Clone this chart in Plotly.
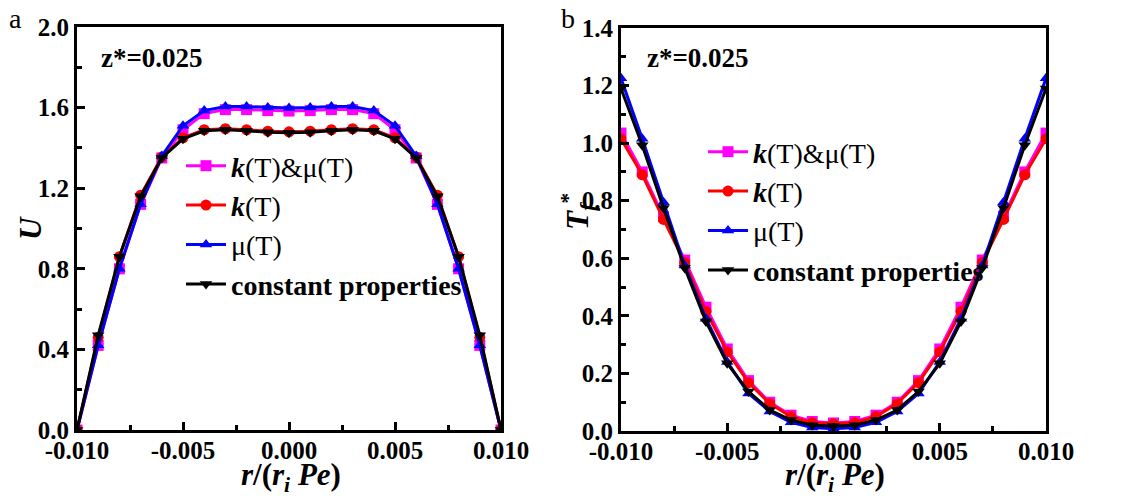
import plotly.graph_objects as go

# Radial coordinate r/(r_i Pe)
r = [-0.010, -0.009, -0.008, -0.007, -0.006, -0.005, -0.004, -0.003, -0.002, -0.001, 0.000,
     0.001, 0.002, 0.003, 0.004, 0.005, 0.006, 0.007, 0.008, 0.009, 0.010]

# Panel a: axial velocity U
u_k_mu = [0.0, 0.42, 0.80, 1.12, 1.35, 1.49, 1.57, 1.59, 1.59, 1.585, 1.583,
          1.585, 1.59, 1.59, 1.57, 1.49, 1.35, 1.12, 0.80, 0.42, 0.0]
u_k = [0.0, 0.46, 0.86, 1.165, 1.355, 1.45, 1.49, 1.495, 1.49, 1.483, 1.48,
       1.483, 1.49, 1.495, 1.49, 1.45, 1.355, 1.165, 0.86, 0.46, 0.0]
u_mu = [0.0, 0.42, 0.80, 1.12, 1.36, 1.51, 1.585, 1.605, 1.605, 1.60, 1.598,
        1.60, 1.605, 1.605, 1.585, 1.51, 1.36, 1.12, 0.80, 0.42, 0.0]
u_const = [0.0, 0.47, 0.86, 1.16, 1.35, 1.445, 1.485, 1.49, 1.485, 1.478, 1.475,
           1.478, 1.485, 1.49, 1.485, 1.445, 1.35, 1.16, 0.86, 0.47, 0.0]

# Panel b: dimensionless fluid temperature T*_f
t_k_mu = [1.035, 0.90, 0.745, 0.594, 0.43, 0.285, 0.175, 0.10, 0.055, 0.033, 0.028,
          0.033, 0.055, 0.10, 0.175, 0.285, 0.43, 0.594, 0.745, 0.90, 1.035]
t_k = [1.015, 0.89, 0.735, 0.585, 0.415, 0.275, 0.168, 0.095, 0.05, 0.029, 0.025,
       0.029, 0.05, 0.095, 0.168, 0.275, 0.415, 0.585, 0.735, 0.89, 1.015]
t_mu = [1.225, 1.015, 0.795, 0.575, 0.39, 0.24, 0.13, 0.068, 0.03, 0.012, 0.008,
        0.012, 0.03, 0.068, 0.13, 0.24, 0.39, 0.575, 0.795, 1.015, 1.225]
t_const = [1.19, 0.993, 0.775, 0.566, 0.38, 0.235, 0.137, 0.073, 0.038, 0.02, 0.017,
           0.02, 0.038, 0.073, 0.137, 0.235, 0.38, 0.566, 0.775, 0.993, 1.19]

series_names = ["<b><i>k</i></b>(T)&μ(T)", "<b><i>k</i></b>(T)", "μ(T)", "<b>constant properties</b>"]
series_colors = ["#FF00FF", "#FF0000", "#0000FF", "#000000"]
series_symbols = ["square", "circle", "triangle-up", "triangle-down"]

x_tickvals = [-0.010, -0.005, 0.000, 0.005, 0.010]
x_ticktext = ["-0.010", "-0.005", "0.000", "0.005", "0.010"]
ya_tickvals = [0.0, 0.4, 0.8, 1.2, 1.6, 2.0]
ya_ticktext = ["0.0", "0.4", "0.8", "1.2", "1.6", "2.0"]
yb_tickvals = [0.0, 0.2, 0.4, 0.6, 0.8, 1.0, 1.2, 1.4]
yb_ticktext = ["0.0", "0.2", "0.4", "0.6", "0.8", "1.0", "1.2", "1.4"]

FONT = "Liberation Serif"
W, H = 1121, 497

fig = go.Figure()

for ys, name, col, sym in zip([u_k_mu, u_k, u_mu, u_const], series_names, series_colors, series_symbols):
    fig.add_trace(go.Scatter(
        x=r, y=ys, name=name, mode="lines+markers",
        line=dict(color=col, width=3),
        marker=dict(color=col, symbol=sym, size=11),
        xaxis="x", yaxis="y", legend="legend",
    ))

for ys, name, col, sym in zip([t_k_mu, t_k, t_mu, t_const], series_names, series_colors, series_symbols):
    fig.add_trace(go.Scatter(
        x=r, y=ys, name=name, mode="lines+markers",
        line=dict(color=col, width=3),
        marker=dict(color=col, symbol=sym, size=11),
        xaxis="x2", yaxis="y2", legend="legend2",
    ))

tickfont = dict(family=FONT, size=25, color="black", weight="bold")
common_axis = dict(
    showline=True, linecolor="black", linewidth=3, mirror=True,
    ticks="inside", ticklen=8, tickwidth=2.5, tickcolor="black",
    showgrid=False, zeroline=False, tickfont=tickfont, automargin=False,
)

legend_font = dict(family=FONT, size=28, color="black")
fig.update_layout(
    width=W, height=H,
    margin=dict(l=0, r=0, t=0, b=0),
    paper_bgcolor="white", plot_bgcolor="white",
    font=dict(family=FONT, color="black"),
    xaxis=dict(domain=[77 / W, 501 / W], range=[-0.010, 0.010], anchor="y",
               tickmode="array", tickvals=x_tickvals, ticktext=x_ticktext, ticklabelstandoff=-4,
               minor=dict(ticks="inside", ticklen=5, tickwidth=2.5, dtick=0.0025, tick0=0, tickcolor="black"),
               **common_axis),
    yaxis=dict(domain=[1 - 430 / H, 1 - 27 / H], range=[0, 2.0], anchor="x",
               tickmode="array", tickvals=ya_tickvals, ticktext=ya_ticktext,
               minor=dict(ticks="inside", ticklen=5, tickwidth=2.5, dtick=0.2, tick0=0, tickcolor="black"),
               **common_axis),
    xaxis2=dict(domain=[621 / W, 1046 / W], range=[-0.010, 0.010], anchor="y2",
                tickmode="array", tickvals=x_tickvals, ticktext=x_ticktext, ticklabelstandoff=-4,
                minor=dict(ticks="inside", ticklen=5, tickwidth=2.5, dtick=0.0025, tick0=0, tickcolor="black"),
                **common_axis),
    yaxis2=dict(domain=[1 - 431 / H, 1 - 28 / H], range=[0, 1.4], anchor="x2",
                tickmode="array", tickvals=yb_tickvals, ticktext=yb_ticktext,
                minor=dict(ticks="inside", ticklen=5, tickwidth=2.5, dtick=0.1, tick0=0, tickcolor="black"),
                **common_axis),
    legend=dict(x=181 / W, y=1 - 141 / H, xanchor="left", yanchor="top",
                bgcolor="rgba(0,0,0,0)", font=legend_font, itemwidth=40),
    legend2=dict(x=703 / W, y=1 - 127 / H, xanchor="left", yanchor="top",
                 bgcolor="rgba(0,0,0,0)", font=legend_font, itemwidth=40),
)

annots = [
    dict(text="a", x=15 / W, y=1 - 18 / H, font=dict(size=28)),
    dict(text="b", x=568 / W, y=1 - 18 / H, font=dict(size=28)),
    dict(text="<b>z*=0.025</b>", x=152 / W, y=1 - 58 / H, font=dict(size=27)),
    dict(text="<b>z*=0.025</b>", x=698 / W, y=1 - 58 / H, font=dict(size=27)),
    dict(text="<b><i>U</i></b>", x=30 / W, y=1 - 228 / H, font=dict(size=31), textangle=-90),
    dict(text="<b><i>T</i></b><sub><b><i>f</i></b></sub><sup><b>*</b></sup>", x=578 / W, y=1 - 212 / H,
         font=dict(size=31), textangle=-90),
    dict(text="<b><i>r</i>/(<i>r</i><sub><i>i</i></sub> <i>Pe</i>)</b>", x=291 / W, y=1 - 477 / H, font=dict(size=31)),
    dict(text="<b><i>r</i>/(<i>r</i><sub><i>i</i></sub> <i>Pe</i>)</b>", x=835 / W, y=1 - 477 / H, font=dict(size=31)),
]
for a in annots:
    a.update(xref="paper", yref="paper", showarrow=False, xanchor="center", yanchor="middle")
    a["font"] = dict(family=FONT, color="black", **a["font"])
    fig.add_annotation(**a)

fig.write_html("out.html")
